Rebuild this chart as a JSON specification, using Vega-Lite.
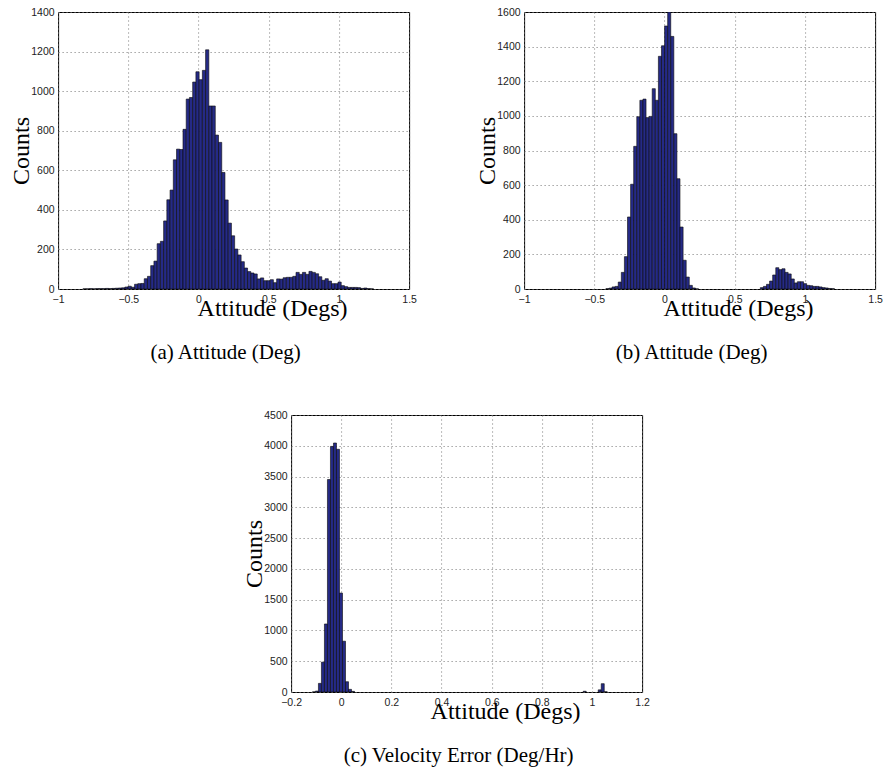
{
  "$schema": "https://vega.github.io/schema/vega-lite/v6.json",
  "background": "white",
  "padding": {"left": 8, "top": 6, "right": 0, "bottom": 0},
  "datasets": {
    "a": [
      {"lo": -0.8235, "hi": -0.8005, "n": 1}, {"lo": -0.8005, "hi": -0.7775, "n": 1}, {"lo": -0.7775, "hi": -0.7545, "n": 2},
      {"lo": -0.7545, "hi": -0.7315, "n": 1}, {"lo": -0.7315, "hi": -0.7085, "n": 2}, {"lo": -0.7085, "hi": -0.6855, "n": 2},
      {"lo": -0.6855, "hi": -0.6625, "n": 2}, {"lo": -0.6625, "hi": -0.6395, "n": 3}, {"lo": -0.6395, "hi": -0.6165, "n": 2},
      {"lo": -0.6165, "hi": -0.5935, "n": 3}, {"lo": -0.5935, "hi": -0.5705, "n": 4}, {"lo": -0.5705, "hi": -0.5475, "n": 5},
      {"lo": -0.5475, "hi": -0.5245, "n": 6}, {"lo": -0.5245, "hi": -0.5015, "n": 10}, {"lo": -0.5015, "hi": -0.4785, "n": 14},
      {"lo": -0.4785, "hi": -0.4555, "n": 9}, {"lo": -0.4555, "hi": -0.4325, "n": 24}, {"lo": -0.4325, "hi": -0.4095, "n": 27},
      {"lo": -0.4095, "hi": -0.3865, "n": 28}, {"lo": -0.3865, "hi": -0.3635, "n": 52}, {"lo": -0.3635, "hi": -0.3405, "n": 64},
      {"lo": -0.3405, "hi": -0.3175, "n": 118}, {"lo": -0.3175, "hi": -0.2945, "n": 141}, {"lo": -0.2945, "hi": -0.2715, "n": 229},
      {"lo": -0.2715, "hi": -0.2485, "n": 241}, {"lo": -0.2485, "hi": -0.2255, "n": 344}, {"lo": -0.2255, "hi": -0.2025, "n": 451},
      {"lo": -0.2025, "hi": -0.1795, "n": 500}, {"lo": -0.1795, "hi": -0.1565, "n": 653}, {"lo": -0.1565, "hi": -0.1335, "n": 707},
      {"lo": -0.1335, "hi": -0.1105, "n": 705}, {"lo": -0.1105, "hi": -0.0875, "n": 807}, {"lo": -0.0875, "hi": -0.0645, "n": 960},
      {"lo": -0.0645, "hi": -0.0415, "n": 968}, {"lo": -0.0415, "hi": -0.0185, "n": 1046}, {"lo": -0.0185, "hi": 0.0045, "n": 1098},
      {"lo": 0.0045, "hi": 0.0275, "n": 1058}, {"lo": 0.0275, "hi": 0.0505, "n": 1105}, {"lo": 0.0505, "hi": 0.0735, "n": 1209},
      {"lo": 0.0735, "hi": 0.0965, "n": 925}, {"lo": 0.0965, "hi": 0.1195, "n": 925}, {"lo": 0.1195, "hi": 0.1425, "n": 778},
      {"lo": 0.1425, "hi": 0.1655, "n": 741}, {"lo": 0.1655, "hi": 0.1885, "n": 589}, {"lo": 0.1885, "hi": 0.2115, "n": 450},
      {"lo": 0.2115, "hi": 0.2345, "n": 333}, {"lo": 0.2345, "hi": 0.2575, "n": 269}, {"lo": 0.2575, "hi": 0.2805, "n": 202},
      {"lo": 0.2805, "hi": 0.3035, "n": 172}, {"lo": 0.3035, "hi": 0.3265, "n": 138}, {"lo": 0.3265, "hi": 0.3495, "n": 106},
      {"lo": 0.3495, "hi": 0.3725, "n": 88}, {"lo": 0.3725, "hi": 0.3955, "n": 81}, {"lo": 0.3955, "hi": 0.4185, "n": 76},
      {"lo": 0.4185, "hi": 0.4415, "n": 51}, {"lo": 0.4415, "hi": 0.4645, "n": 56}, {"lo": 0.4645, "hi": 0.4875, "n": 42},
      {"lo": 0.4875, "hi": 0.5105, "n": 42}, {"lo": 0.5105, "hi": 0.5335, "n": 47}, {"lo": 0.5335, "hi": 0.5565, "n": 32},
      {"lo": 0.5565, "hi": 0.5795, "n": 51}, {"lo": 0.5795, "hi": 0.6025, "n": 50}, {"lo": 0.6025, "hi": 0.6255, "n": 57},
      {"lo": 0.6255, "hi": 0.6485, "n": 59}, {"lo": 0.6485, "hi": 0.6715, "n": 59}, {"lo": 0.6715, "hi": 0.6945, "n": 64},
      {"lo": 0.6945, "hi": 0.7175, "n": 84}, {"lo": 0.7175, "hi": 0.7405, "n": 74}, {"lo": 0.7405, "hi": 0.7635, "n": 84},
      {"lo": 0.7635, "hi": 0.7865, "n": 74}, {"lo": 0.7865, "hi": 0.8095, "n": 89}, {"lo": 0.8095, "hi": 0.8325, "n": 84},
      {"lo": 0.8325, "hi": 0.8555, "n": 77}, {"lo": 0.8555, "hi": 0.8785, "n": 62}, {"lo": 0.8785, "hi": 0.9015, "n": 44},
      {"lo": 0.9015, "hi": 0.9245, "n": 52}, {"lo": 0.9245, "hi": 0.9475, "n": 40}, {"lo": 0.9475, "hi": 0.9705, "n": 27},
      {"lo": 0.9705, "hi": 0.9935, "n": 27}, {"lo": 0.9935, "hi": 1.0165, "n": 35}, {"lo": 1.0165, "hi": 1.0395, "n": 17},
      {"lo": 1.0395, "hi": 1.0625, "n": 12}, {"lo": 1.0625, "hi": 1.0855, "n": 8}, {"lo": 1.0855, "hi": 1.1085, "n": 8},
      {"lo": 1.1085, "hi": 1.1315, "n": 8}, {"lo": 1.1315, "hi": 1.1545, "n": 7}, {"lo": 1.1545, "hi": 1.1775, "n": 3},
      {"lo": 1.1775, "hi": 1.2005, "n": 5}, {"lo": 1.2005, "hi": 1.2235, "n": 2}, {"lo": 1.2235, "hi": 1.2465, "n": 1}
    ],
    "b": [
      {"lo": -0.4175, "hi": -0.3955, "n": 2}, {"lo": -0.3955, "hi": -0.3735, "n": 5}, {"lo": -0.3735, "hi": -0.3515, "n": 12},
      {"lo": -0.3515, "hi": -0.3295, "n": 15}, {"lo": -0.3295, "hi": -0.3075, "n": 40}, {"lo": -0.3075, "hi": -0.2855, "n": 96},
      {"lo": -0.2855, "hi": -0.2635, "n": 187}, {"lo": -0.2635, "hi": -0.2415, "n": 416}, {"lo": -0.2415, "hi": -0.2195, "n": 605},
      {"lo": -0.2195, "hi": -0.1975, "n": 824}, {"lo": -0.1975, "hi": -0.1755, "n": 995}, {"lo": -0.1755, "hi": -0.1535, "n": 1090},
      {"lo": -0.1535, "hi": -0.1315, "n": 1097}, {"lo": -0.1315, "hi": -0.1095, "n": 990}, {"lo": -0.1095, "hi": -0.0875, "n": 997},
      {"lo": -0.0875, "hi": -0.0655, "n": 1157}, {"lo": -0.0655, "hi": -0.0435, "n": 1090}, {"lo": -0.0435, "hi": -0.0215, "n": 1344},
      {"lo": -0.0215, "hi": 0.0005, "n": 1405}, {"lo": 0.0005, "hi": 0.0225, "n": 1519}, {"lo": 0.0225, "hi": 0.0445, "n": 1600},
      {"lo": 0.0445, "hi": 0.0665, "n": 1459}, {"lo": 0.0665, "hi": 0.0885, "n": 897}, {"lo": 0.0885, "hi": 0.1105, "n": 637},
      {"lo": 0.1105, "hi": 0.1325, "n": 358}, {"lo": 0.1325, "hi": 0.1545, "n": 166}, {"lo": 0.1545, "hi": 0.1765, "n": 69},
      {"lo": 0.1765, "hi": 0.1985, "n": 21}, {"lo": 0.1985, "hi": 0.2205, "n": 6}, {"lo": 0.2205, "hi": 0.2425, "n": 1},
      {"lo": 0.6825, "hi": 0.7045, "n": 8}, {"lo": 0.7045, "hi": 0.7265, "n": 15}, {"lo": 0.7265, "hi": 0.7485, "n": 27},
      {"lo": 0.7485, "hi": 0.7705, "n": 46}, {"lo": 0.7705, "hi": 0.7925, "n": 81}, {"lo": 0.7925, "hi": 0.8145, "n": 123},
      {"lo": 0.8145, "hi": 0.8365, "n": 112}, {"lo": 0.8365, "hi": 0.8585, "n": 117}, {"lo": 0.8585, "hi": 0.8805, "n": 96},
      {"lo": 0.8805, "hi": 0.9025, "n": 87}, {"lo": 0.9025, "hi": 0.9245, "n": 58}, {"lo": 0.9245, "hi": 0.9465, "n": 35},
      {"lo": 0.9465, "hi": 0.9685, "n": 42}, {"lo": 0.9685, "hi": 0.9905, "n": 42}, {"lo": 0.9905, "hi": 1.0125, "n": 31},
      {"lo": 1.0125, "hi": 1.0345, "n": 21}, {"lo": 1.0345, "hi": 1.0565, "n": 19}, {"lo": 1.0565, "hi": 1.0785, "n": 15},
      {"lo": 1.0785, "hi": 1.1005, "n": 15}, {"lo": 1.1005, "hi": 1.1225, "n": 12}, {"lo": 1.1225, "hi": 1.1445, "n": 8},
      {"lo": 1.1445, "hi": 1.1665, "n": 6}, {"lo": 1.1665, "hi": 1.1885, "n": 3}, {"lo": 1.1885, "hi": 1.2105, "n": 2}
    ],
    "c": [
      {"lo": -0.115, "hi": -0.103, "n": 2}, {"lo": -0.103, "hi": -0.091, "n": 15}, {"lo": -0.091, "hi": -0.079, "n": 140},
      {"lo": -0.079, "hi": -0.067, "n": 485}, {"lo": -0.067, "hi": -0.055, "n": 1105}, {"lo": -0.055, "hi": -0.043, "n": 3452},
      {"lo": -0.043, "hi": -0.031, "n": 3990}, {"lo": -0.031, "hi": -0.019, "n": 4045}, {"lo": -0.019, "hi": -0.007, "n": 3943},
      {"lo": -0.007, "hi": 0.005, "n": 1607}, {"lo": 0.005, "hi": 0.017, "n": 825}, {"lo": 0.017, "hi": 0.029, "n": 167},
      {"lo": 0.029, "hi": 0.041, "n": 43}, {"lo": 0.041, "hi": 0.053, "n": 10},
      {"lo": 0.965, "hi": 0.977, "n": 12}, {"lo": 1.025, "hi": 1.037, "n": 35}, {"lo": 1.037, "hi": 1.049, "n": 135},
      {"lo": 1.049, "hi": 1.061, "n": 4}
    ]
  },
  "config": {
    "view": {"stroke": "#000", "strokeWidth": 1},
    "axis": {
      "labelFont": "Liberation Sans", "labelFontSize": 10.5, "labelColor": "#222",
      "titleFont": "Liberation Serif", "titleFontSize": 24, "titleFontWeight": "normal", "titleColor": "#000",
      "ticks": false, "tickSize": 0, "domain": false,
      "grid": true, "gridColor": "#777", "gridDash": [1, 3], "gridWidth": 1, "gridOpacity": 1
    },
    "axisX": {"labelPadding": 5, "titleX": 214, "titleY": 26, "titleAlign": "center", "titleBaseline": "alphabetic", "labelFlush": false, "labelOverlap": false},
    "axisY": {"labelPadding": 4, "titleX": -30, "titleY": 138.5, "titleAlign": "center", "titleBaseline": "alphabetic", "titleAngle": 270, "labelOverlap": false},
    "title": {"font": "Liberation Serif", "fontSize": 21, "fontWeight": "normal", "color": "#000", "orient": "bottom", "anchor": "middle", "offset": 22, "dx": -8}
  },
  "vconcat": [
    {
      "hconcat": [
        {
          "width": 351, "height": 277,
          "title": "(a)  Attitude (Deg)",
          "data": {"name": "a"},
          "mark": {"type": "bar", "fill": "#252a86", "stroke": "#0a0a0a", "strokeWidth": 0.6, "clip": true},
          "encoding": {
            "x": {"field": "lo", "type": "quantitative", "scale": {"domain": [-1, 1.5], "nice": false, "zero": false},
                  "axis": {"title": "Attitude (Degs)", "values": [-1, -0.5, 0, 0.5, 1, 1.5], "format": "~g"}},
            "x2": {"field": "hi"},
            "y": {"field": "n", "type": "quantitative", "scale": {"domain": [0, 1400], "nice": false},
                  "axis": {"title": "Counts", "values": [0, 200, 400, 600, 800, 1000, 1200, 1400], "format": "d"}},
            "y2": {"datum": 0}
          }
        },
        {
          "width": 351, "height": 277,
          "title": "(b)  Attitude (Deg)",
          "data": {"name": "b"},
          "mark": {"type": "bar", "fill": "#252a86", "stroke": "#0a0a0a", "strokeWidth": 0.6, "clip": true},
          "encoding": {
            "x": {"field": "lo", "type": "quantitative", "scale": {"domain": [-1, 1.5], "nice": false, "zero": false},
                  "axis": {"title": "Attitude (Degs)", "values": [-1, -0.5, 0, 0.5, 1, 1.5], "format": "~g"}},
            "x2": {"field": "hi"},
            "y": {"field": "n", "type": "quantitative", "scale": {"domain": [0, 1600], "nice": false},
                  "axis": {"title": "Counts", "values": [0, 200, 400, 600, 800, 1000, 1200, 1400, 1600], "format": "d"}},
            "y2": {"datum": 0}
          }
        }
      ],
      "spacing": 115,
      "bounds": "flush"
    },
    {
      "width": 351, "height": 277,
      "title": "(c)  Velocity Error (Deg/Hr)",
      "data": {"name": "c"},
      "mark": {"type": "bar", "fill": "#252a86", "stroke": "#0a0a0a", "strokeWidth": 0.6, "clip": true},
      "encoding": {
        "x": {"field": "lo", "type": "quantitative", "scale": {"domain": [-0.2, 1.2], "nice": false, "zero": false},
              "axis": {"title": "Attitude (Degs)", "values": [-0.2, 0, 0.2, 0.4, 0.6, 0.8, 1, 1.2], "format": "~g"}},
        "x2": {"field": "hi"},
        "y": {"field": "n", "type": "quantitative", "scale": {"domain": [0, 4500], "nice": false},
              "axis": {"title": "Counts", "values": [0, 500, 1000, 1500, 2000, 2500, 3000, 3500, 4000, 4500], "format": "d"}},
        "y2": {"datum": 0}
      }
    }
  ],
  "spacing": 45,
  "center": true
}
